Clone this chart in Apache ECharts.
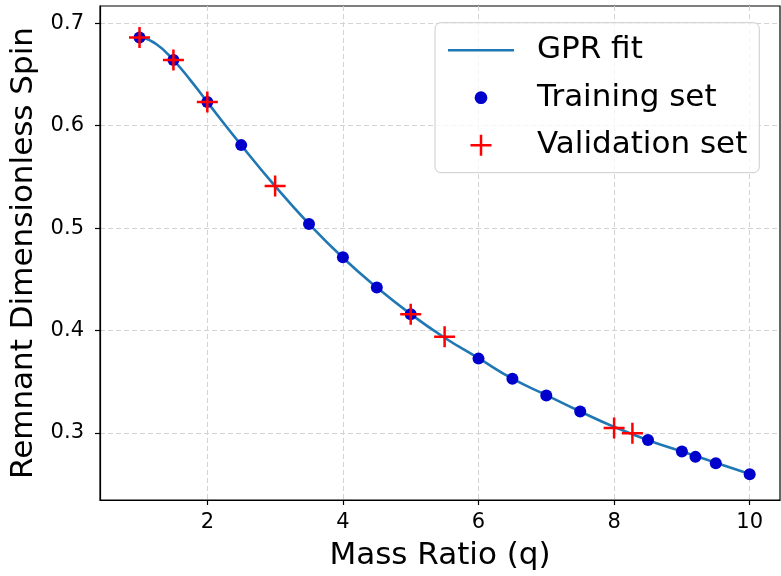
<!DOCTYPE html>
<html>
<head>
<meta charset="utf-8">
<script src="https://cdn.jsdelivr.net/npm/echarts@6/dist/echarts.min.js"></script>
<style>html,body{margin:0;padding:0;background:#fff;}#c{width:781px;height:576px;}</style>
</head>
<body>
<div id="c"></div>
<script>
// GPR fit curve
const fitX = [1, 1.25, 1.5, 1.75, 2, 2.5, 3, 3.5, 4, 4.5, 5, 5.5, 6, 6.5, 7, 7.5, 8, 8.5, 9, 9.5, 10];
const fitY = [0.687, 0.6795, 0.664, 0.6445, 0.623, 0.581, 0.541, 0.504, 0.471, 0.442, 0.416, 0.393, 0.373, 0.353, 0.337, 0.321, 0.306, 0.293, 0.282, 0.271, 0.260];
// Training set
const trainX = [1, 1.5, 2, 2.5, 3.5, 4, 4.5, 5, 6, 6.5, 7, 7.5, 8.5, 9, 9.2, 9.5, 10];
const trainY = [0.686, 0.664, 0.623, 0.581, 0.504, 0.4715, 0.442, 0.416, 0.3726, 0.353, 0.3367, 0.321, 0.2932, 0.2819, 0.2767, 0.2705, 0.2598];
// Validation set
const valX = [1, 1.5, 2, 3, 5, 5.5, 8, 8.27];
const valY = [0.686, 0.664, 0.623, 0.541, 0.416, 0.394, 0.305, 0.2997];
// Tick labels
const xTicks = [2, 4, 6, 8, 10];
const yTicks = [0.3, 0.4, 0.5, 0.6, 0.7];

const zip = (a, b) => a.map((v, i) => [v, b[i]]);
const FONT = 'DejaVu Sans';
const crossPath = 'path://M0,-10L0,10M-10,0L10,0';
const lineLegend = 'path://M0,0M66,22M0,11L66,11';
const dotLegend = 'path://M0,0M22,22M4.6,11A6.4,6.4,0,1,0,17.4,11A6.4,6.4,0,1,0,4.6,11Z';
const crossLegend = 'path://M0,0M22,22M11,0.5L11,21.5M0.5,11L21.5,11';

const chart = echarts.init(document.getElementById('c'), null, {renderer: 'canvas'});
chart.setOption({
  animation: false,
  backgroundColor: '#fff',
  grid: {left: 100, right: 1, top: 6, bottom: 74, show: true, borderColor: '#000', borderWidth: 1.2, backgroundColor: 'transparent'},
  xAxis: {
    type: 'value', min: 0.417, max: 10.447,
    name: 'Mass Ratio (q)', nameLocation: 'middle', nameGap: 40,
    nameTextStyle: {fontFamily: FONT, fontSize: 31, color: '#000'},
    axisLine: {show: true, lineStyle: {color: '#000', width: 1.2}},
    axisTick: {show: true, length: 5, lineStyle: {color: '#000', width: 1.2}, customValues: xTicks},
    axisLabel: {customValues: xTicks, fontFamily: FONT, fontSize: 21, color: '#000', margin: 12},
    splitLine: {show: true, lineStyle: {color: '#d3d3d3', type: [5, 3], width: 1}}
  },
  yAxis: {
    type: 'value', min: 0.2346, max: 0.7168,
    name: 'Remnant Dimensionless Spin', nameLocation: 'middle', nameGap: 60,
    nameTextStyle: {fontFamily: FONT, fontSize: 31, color: '#000'},
    axisLine: {show: true, lineStyle: {color: '#000', width: 1.2}},
    axisTick: {show: true, length: 5, lineStyle: {color: '#000', width: 1.2}, customValues: yTicks},
    axisLabel: {customValues: yTicks, fontFamily: FONT, fontSize: 21, color: '#000', margin: 16,
      formatter: v => v.toFixed(1)},
    splitLine: {show: true, lineStyle: {color: '#d3d3d3', type: [5, 3], width: 1}}
  },
  legend: {
    orient: 'vertical', left: 435, top: 22.7,
    padding: [12, 12, 12, 11.7],
    itemWidth: 66, itemHeight: 22, itemGap: 16.5,
    backgroundColor: 'rgba(255,255,255,0.8)', borderColor: '#cccccc', borderWidth: 1, borderRadius: 6,
    textStyle: {fontFamily: FONT, fontSize: 31, color: '#000', padding: [0, 0, 0, 18]},
    data: [
      {name: 'GPR fit', icon: lineLegend, itemStyle: {borderWidth: 2.6, borderColor: '#1f77b4', color: 'rgba(0,0,0,0)'}},
      {name: 'Training set', icon: dotLegend},
      {name: 'Validation set', icon: crossLegend, itemStyle: {borderWidth: 2.5, borderColor: '#ff0000', color: 'rgba(0,0,0,0)'}}
    ]
  },
  series: [
    {name: 'GPR fit', type: 'line', data: zip(fitX, fitY), smooth: true, symbol: 'none', showSymbol: false,
      lineStyle: {color: '#1f77b4', width: 2.6}, itemStyle: {color: '#1f77b4'}, z: 2},
    {name: 'Training set', type: 'scatter', data: zip(trainX, trainY), symbol: 'circle', symbolSize: 12,
      itemStyle: {color: '#0000cd', opacity: 1}, z: 3},
    {name: 'Validation set', type: 'scatter', data: zip(valX, valY), symbol: crossPath, symbolSize: 21,
      itemStyle: {color: 'rgba(0,0,0,0)', borderColor: '#ff0000', borderWidth: 2.5, opacity: 1}, z: 4}
  ]
});
</script>
</body>
</html>
